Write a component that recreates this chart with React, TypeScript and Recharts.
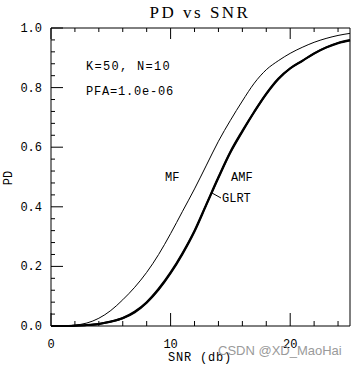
import { LineChart, Line, XAxis, YAxis } from 'recharts'

// SNR in dB, PD values
const snr = [0, 1, 2, 3, 4, 5, 6, 7, 8, 9, 10, 11, 12, 13, 14, 15, 16, 17, 18, 19, 20, 21, 22, 23, 24, 25]
const mf = [0, 0.001, 0.003, 0.01, 0.026, 0.052, 0.088, 0.13, 0.18, 0.24, 0.31, 0.385, 0.46, 0.54, 0.62, 0.69, 0.755, 0.815, 0.86, 0.89, 0.915, 0.935, 0.952, 0.965, 0.975, 0.982]
const amf = [0, 0, 0.001, 0.003, 0.007, 0.015, 0.027, 0.048, 0.08, 0.125, 0.18, 0.245, 0.32, 0.41, 0.5, 0.585, 0.655, 0.72, 0.78, 0.83, 0.865, 0.89, 0.915, 0.935, 0.95, 0.96]
const glrt = [0, 0, 0.001, 0.003, 0.007, 0.014, 0.026, 0.046, 0.078, 0.122, 0.177, 0.242, 0.317, 0.407, 0.497, 0.582, 0.652, 0.718, 0.778, 0.828, 0.864, 0.889, 0.914, 0.934, 0.949, 0.958]

const xTicks = [0, 2, 4, 6, 8, 10, 12, 14, 16, 18, 20, 22, 24]
const xMajor = [0, 10, 20]
const yTicks = [0, 0.04, 0.08, 0.12, 0.16, 0.2, 0.24, 0.28, 0.32, 0.36, 0.4, 0.44, 0.48, 0.52, 0.56, 0.6, 0.64, 0.68, 0.72, 0.76, 0.8, 0.84, 0.88, 0.92, 0.96, 1.0]
const yMajor = [0, 0.2, 0.4, 0.6, 0.8, 1.0]

const data = snr.map((s, i) => ({ snr: s, mf: mf[i], amf: amf[i], glrt: glrt[i] }))

const MONO = '"Liberation Mono", "DejaVu Sans Mono", monospace'
const isMajor = (list: number[], v: number) => list.some((m) => Math.abs(m - v) < 1e-6)

const BottomTick = (p: any) => {
  const major = isMajor(xMajor, p.payload.value)
  return (
    <g>
      <line x1={p.x} y1={p.y} x2={p.x} y2={p.y - (major ? 13 : 5)} stroke="#000" />
      {major && (
        <text x={p.x} y={p.y + 22} textAnchor="middle" fontFamily={MONO} fontSize={12} fill="#000">
          {p.payload.value}
        </text>
      )}
    </g>
  )
}

const TopTick = (p: any) => {
  const major = isMajor(xMajor, p.payload.value)
  return <line x1={p.x} y1={p.y} x2={p.x} y2={p.y + (major ? 11 : 4)} stroke="#000" />
}

const LeftTick = (p: any) => {
  const major = isMajor(yMajor, p.payload.value)
  return (
    <g>
      <line x1={p.x} y1={p.y} x2={p.x + (major ? 12 : 4)} y2={p.y} stroke="#000" />
      {major && (
        <text x={p.x - 9} y={p.y + 4} textAnchor="end" fontFamily={MONO} fontSize={12} fill="#000">
          {p.payload.value.toFixed(1)}
        </text>
      )}
    </g>
  )
}

const RightTick = (p: any) => {
  const major = isMajor(yMajor, p.payload.value)
  return <line x1={p.x} y1={p.y} x2={p.x - (major ? 12 : 4)} y2={p.y} stroke="#000" />
}

export default function App() {
  return (
    <div style={{ position: 'relative', width: 364, height: 367, background: '#fff' }}>
      <style>{'body{margin:0}'}</style>
      <LineChart width={364} height={367} data={data} margin={{ top: 27, right: 13, bottom: 40, left: 50 }}>
        <XAxis
          xAxisId="b"
          dataKey="snr"
          type="number"
          domain={[0, 25]}
          ticks={xTicks}
          interval={0}
          height={1}
          tickSize={0}
          tickMargin={0}
          tickLine={false}
          axisLine={{ stroke: '#000' }}
          tick={(p: any) => <BottomTick {...p} />}
        />
        <XAxis
          xAxisId="t"
          orientation="top"
          dataKey="snr"
          type="number"
          domain={[0, 25]}
          ticks={xTicks}
          interval={0}
          height={1}
          tickSize={0}
          tickMargin={0}
          tickLine={false}
          axisLine={{ stroke: '#000' }}
          tick={(p: any) => <TopTick {...p} />}
        />
        <YAxis
          yAxisId="l"
          type="number"
          domain={[0, 1]}
          ticks={yTicks}
          interval={0}
          width={1}
          tickSize={0}
          tickMargin={0}
          tickLine={false}
          axisLine={{ stroke: '#000' }}
          tick={(p: any) => <LeftTick {...p} />}
        />
        <YAxis
          yAxisId="r"
          orientation="right"
          type="number"
          domain={[0, 1]}
          ticks={yTicks}
          interval={0}
          width={1}
          tickSize={0}
          tickMargin={0}
          tickLine={false}
          axisLine={{ stroke: '#000' }}
          tick={(p: any) => <RightTick {...p} />}
        />
        <Line xAxisId="b" yAxisId="l" type="monotone" dataKey="mf" stroke="#000" strokeWidth={1} dot={false} isAnimationActive={false} />
        <Line xAxisId="b" yAxisId="l" type="monotone" dataKey="amf" stroke="#000" strokeWidth={2} dot={false} isAnimationActive={false} />
        <Line xAxisId="b" yAxisId="l" type="monotone" dataKey="glrt" stroke="#000" strokeWidth={2} dot={false} isAnimationActive={false} />
      </LineChart>
      <svg width={364} height={367} style={{ position: 'absolute', left: 0, top: 0, pointerEvents: 'none' }}>
        <text x={200} y={18} textAnchor="middle" fontFamily='"Liberation Serif", serif' fontSize={17} letterSpacing={2.5} fill="#000">
          PD vs SNR
        </text>
        <text x={86} y={70} fontFamily={MONO} fontSize={12} letterSpacing={1.3} fill="#000">
          K=50, N=10
        </text>
        <text x={86} y={95} fontFamily={MONO} fontSize={12} letterSpacing={0.8} fill="#000">
          PFA=1.0e-06
        </text>
        <text x={165} y={181} fontFamily={MONO} fontSize={12} fill="#000">
          MF
        </text>
        <text x={231} y={181} fontFamily={MONO} fontSize={12} fill="#000">
          AMF
        </text>
        <line x1={212} y1={193} x2={221} y2={198} stroke="#000" />
        <text x={222} y={202} fontFamily={MONO} fontSize={12} fill="#000">
          GLRT
        </text>
        <text transform="translate(12,178) rotate(-90)" textAnchor="middle" fontFamily={MONO} fontSize={12} fill="#000">
          PD
        </text>
        <text x={200} y={361} textAnchor="middle" fontFamily={MONO} fontSize={12} letterSpacing={0.8} fill="#000">
          SNR (db)
        </text>
        <text x={218} y={355} fontFamily='"Liberation Sans", Arial, sans-serif' fontSize={13} fill="#9a9a9a">
          CSDN @XD_MaoHai
        </text>
      </svg>
    </div>
  )
}
